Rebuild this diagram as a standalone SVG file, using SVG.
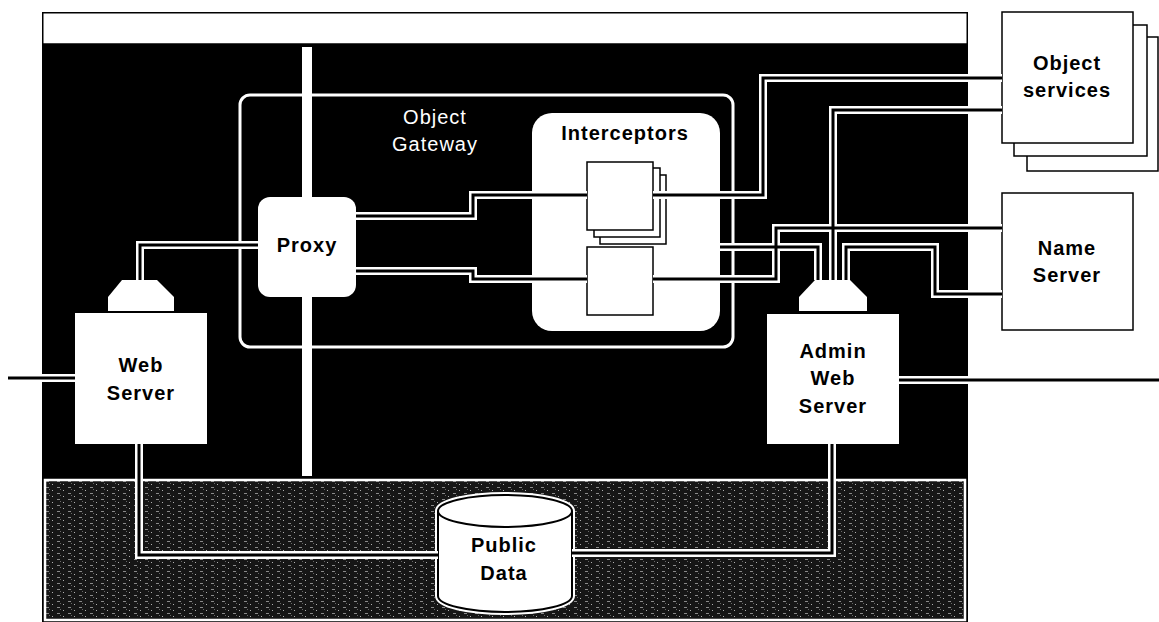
<svg xmlns="http://www.w3.org/2000/svg" xmlns:xlink="http://www.w3.org/1999/xlink" width="1159" height="622" viewBox="0 0 1159 622">
<defs>
<style>
.lbl{font-family:"Liberation Sans",Arial,sans-serif;font-weight:bold;font-size:20px;letter-spacing:1px;text-anchor:middle;fill:#000}
.lblw{font-family:"Liberation Sans",Arial,sans-serif;font-size:20px;letter-spacing:1px;text-anchor:middle;fill:#fff}
.box{fill:#fff;stroke:#000;stroke-width:1.5}
.wfill{fill:#fff}
.halo{fill:none;stroke:#fff;stroke-width:8;stroke-linejoin:miter}
.core{fill:none;stroke:#000;stroke-width:3;stroke-linejoin:miter}
</style>
<pattern id="grain" width="11" height="6" patternUnits="userSpaceOnUse">
<rect width="11" height="6" fill="#161616"/>
<rect x="2" y="1" width="3" height="1" fill="#8a8a8a"/>
<rect x="8" y="4" width="1" height="1" fill="#b0b0b0"/>
<rect x="5" y="3" width="1" height="1" fill="#666"/>
</pattern>
<path id="w1" d="M8,378 H75"/>
<path id="w2" d="M899,380 H1159"/>
<path id="w3" d="M140,280 V245 H258"/>
<path id="w4" d="M356,216 H473 V195 H587"/>
<path id="w5" d="M653,195 H763 V78 H1002"/>
<path id="w6" d="M356,271 H473 V279 H587"/>
<path id="w7" d="M653,279 H776 V228 H1002"/>
<path id="w8" d="M720,247 H818 V280"/>
<path id="w9" d="M833,280 V110 H1002"/>
<path id="w10" d="M846,280 V247 H935 V294 H1002"/>
<path id="w11" d="M139,444 V555 H438"/>
<path id="w12" d="M572,553 H832 V444"/>
</defs>

<rect width="1159" height="622" fill="#fff"/>

<g id="backdrop">
<rect x="42" y="12" width="926" height="612" fill="#000"/>
<rect x="42.75" y="12.75" width="924.5" height="31.25" fill="#fff" stroke="#000" stroke-width="1.5"/>
<rect x="45" y="480" width="920" height="140" fill="url(#grain)" stroke="#fff" stroke-width="2.5"/>
<rect x="302" y="47" width="10" height="150" fill="#fff"/>
<rect x="302" y="297" width="10" height="179" fill="#fff"/>
</g>

<g id="object-gateway">
<rect x="240" y="95" width="493" height="252" rx="10" fill="none" stroke="#fff" stroke-width="3"/>
<text class="lblw" x="435" y="124">Object</text>
<text class="lblw" x="435" y="151">Gateway</text>
</g>

<g id="interceptors">
<rect x="532" y="113" width="188" height="218" rx="20" class="wfill"/>
<text class="lbl" x="625" y="140">Interceptors</text>
<rect x="600" y="175" width="66" height="69" class="box"/>
<rect x="594" y="168" width="66" height="69" class="box"/>
<rect x="587" y="162" width="66" height="68" class="box"/>
<rect x="587" y="247" width="66" height="68" class="box"/>
</g>

<g id="proxy">
<rect x="258" y="197" width="98" height="100" rx="12" class="wfill"/>
<text class="lbl" x="307" y="252">Proxy</text>
</g>

<g id="web-server">
<polygon points="122,280 157,280 174,297 174,311 108,311 108,297" class="wfill"/>
<rect x="75" y="313" width="132" height="131" class="wfill"/>
<text class="lbl" x="141" y="372">Web</text>
<text class="lbl" x="141" y="400">Server</text>
</g>

<g id="admin-web-server">
<polygon points="815,280 850,280 867,297 867,311 799,311 799,297" class="wfill"/>
<rect x="767" y="314" width="132" height="130" class="wfill"/>
<text class="lbl" x="833" y="358">Admin</text>
<text class="lbl" x="833" y="385">Web</text>
<text class="lbl" x="833" y="413">Server</text>
</g>

<g id="object-services">
<rect x="1027" y="37" width="131" height="134" class="box"/>
<rect x="1014" y="25" width="133" height="131" class="box"/>
<rect x="1002" y="12" width="131" height="131" class="box"/>
<text class="lbl" x="1067" y="70">Object</text>
<text class="lbl" x="1067" y="97">services</text>
</g>

<g id="name-server">
<rect x="1002" y="193" width="131" height="137" class="box"/>
<text class="lbl" x="1067" y="255">Name</text>
<text class="lbl" x="1067" y="282">Server</text>
</g>

<g id="public-data">
<path d="M438,511 A67,16 0 0 1 572,511 V596 A67,16 0 0 1 438,596 Z" fill="none" stroke="#fff" stroke-width="6"/>
<path d="M438,511 A67,16 0 0 1 572,511 V596 A67,16 0 0 1 438,596 Z" fill="#fff" stroke="#000" stroke-width="2"/>
<path d="M438,511 A67,16 0 0 0 572,511" fill="none" stroke="#000" stroke-width="2"/>
<text class="lbl" x="504" y="552">Public</text>
<text class="lbl" x="504" y="580">Data</text>
</g>

<g id="connectors">
<g class="halo">
<use xlink:href="#w1"/><use xlink:href="#w2"/><use xlink:href="#w3"/><use xlink:href="#w4"/>
<use xlink:href="#w5"/><use xlink:href="#w6"/><use xlink:href="#w7"/><use xlink:href="#w8"/>
<use xlink:href="#w9"/><use xlink:href="#w10"/><use xlink:href="#w11"/><use xlink:href="#w12"/>
</g>
<g class="core">
<use xlink:href="#w1"/><use xlink:href="#w2"/><use xlink:href="#w3"/><use xlink:href="#w4"/>
<use xlink:href="#w5"/><use xlink:href="#w6"/><use xlink:href="#w7"/><use xlink:href="#w8"/>
<use xlink:href="#w9"/><use xlink:href="#w10"/><use xlink:href="#w11"/><use xlink:href="#w12"/>
</g>
</g>
</svg>
